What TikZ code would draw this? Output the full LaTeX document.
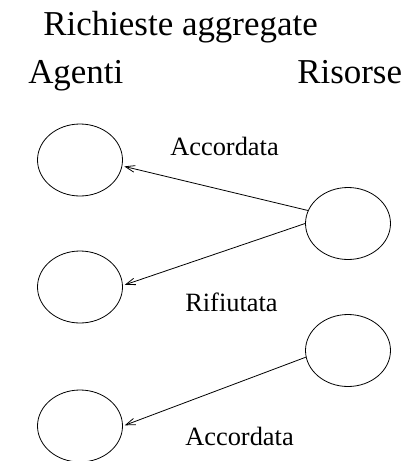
\documentclass[tikz,border=0pt]{standalone}
\usepackage{fontspec}
\setmainfont{Liberation Serif}
\usetikzlibrary{arrows.meta,shapes.geometric}
\tikzset{
  ell/.style={draw,ellipse,minimum width=63.75pt,minimum height=54pt,inner sep=0pt,line width=0.6pt},
  bigtext/.style={font=\fontsize{26.2pt}{30pt}\selectfont,inner sep=0pt,anchor=base west},
  lbl/.style={font=\fontsize{19.8pt}{23pt}\selectfont,inner sep=0pt,anchor=base west},
  req/.style={line width=0.6pt,-{Straight Barb[length=7pt,width=5pt,line width=0.6pt]},shorten >=1.5pt}
}
\begin{document}
\begin{tikzpicture}[x=0.75pt,y=-0.75pt]
\useasboundingbox (0,0) rectangle (409,461);
\node[bigtext] (title) at (43,35) {Richieste aggregate};
\node[bigtext] (agenti) at (28,83) {Agenti};
\node[bigtext] (risorse) at (297,83) {Risorse};

\node[ell] (A1) at (80,160) {};
\node[ell] (A2) at (80,287) {};
\node[ell] (A3) at (80,426) {};
\node[ell] (R1) at (348,223.5) {};
\node[ell] (R2) at (348,350.5) {};

\node[lbl] (l1) at (170,155.5) {Accordata};
\node[lbl] (l2) at (185,311.5) {Rifiutata};
\node[lbl] (l3) at (185,445.5) {Accordata};

\draw[req] (R1.162) -- (A1.-8);
\draw[req] (R1.180) -- (A2.2);
\draw[req] (R2.-171) -- (A3.0);
\end{tikzpicture}
\end{document}
